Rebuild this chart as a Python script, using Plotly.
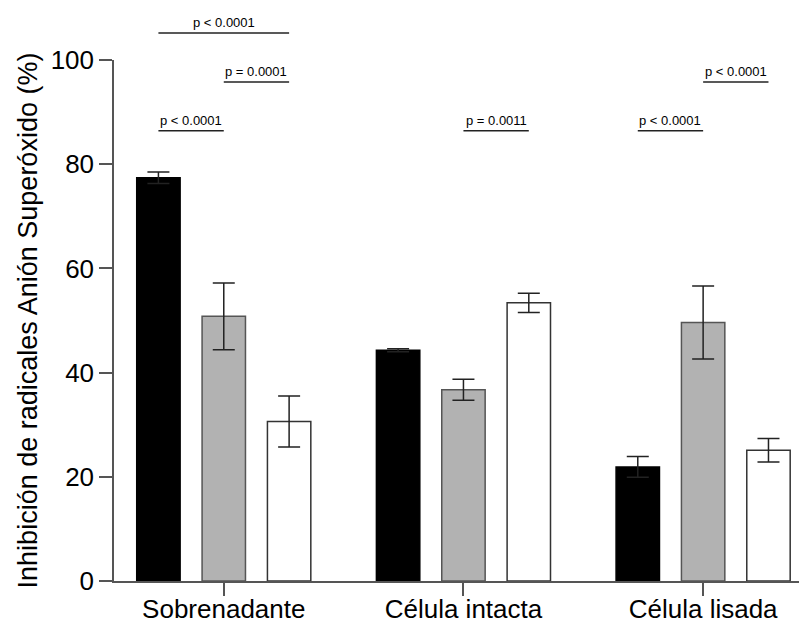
import plotly.graph_objects as go

# Groups along the x axis
categories = ["Sobrenadante", "Célula intacta", "Célula lisada"]

# Mean inhibition (%) and error for the three treatments in each group
black_vals = [77.4, 44.3, 21.9]
black_err = [1.1, 0.3, 2.0]
gray_vals = [50.8, 36.7, 49.6]
gray_err = [6.4, 2.0, 7.0]
white_vals = [30.6, 53.4, 25.1]
white_err = [4.9, 1.85, 2.25]

y_ticks = [0, 20, 40, 60, 80, 100]

# Pairwise comparisons: (group index, bar a, bar b, label, tier)
comparisons = [
    (0, 0, 2, "p < 0.0001", 3),
    (0, 1, 2, "p = 0.0001", 2),
    (0, 0, 1, "p < 0.0001", 1),
    (1, 1, 2, "p = 0.0011", 1),
    (2, 0, 1, "p < 0.0001", 1),
    (2, 1, 2, "p < 0.0001", 2),
]

x = list(range(len(categories)))
BARGAP = 0.182
BARGROUPGAP = 0.336
slot = (1 - BARGAP) / 3

series = [
    ("negro", black_vals, black_err, "#000000", "#000000"),
    ("gris", gray_vals, gray_err, "#b2b2b2", "#555555"),
    ("blanco", white_vals, white_err, "#ffffff", "#333333"),
]

fig = go.Figure()
for name, vals, err, fill, edge in series:
    fig.add_trace(go.Bar(
        x=x, y=vals, name=name,
        marker=dict(color=fill, line=dict(color=edge, width=1.5)),
        error_y=dict(type="data", array=err, visible=True,
                     color="#222222", thickness=1.5, width=11),
        showlegend=False,
    ))

# Bracket heights (in data units) for each tier above the plot
tier_y = {1: 86.4, 2: 95.8, 3: 105.2}
ymax = 100.0
for g, a, b, label, tier in comparisons:
    xa = g + (a - 1) * slot
    xb = g + (b - 1) * slot
    yp = tier_y[tier] / ymax
    fig.add_shape(type="line", xref="x", yref="paper",
                  x0=xa, x1=xb, y0=yp, y1=yp,
                  line=dict(color="#222222", width=1.5))
    fig.add_annotation(x=(xa + xb) / 2, y=yp, xref="x", yref="paper",
                       text=label, showarrow=False, yanchor="bottom",
                       yshift=1,
                       font=dict(family="Liberation Sans, Arial", size=13,
                                 color="#000000"))

fig.update_layout(
    width=799, height=625,
    margin=dict(l=114, r=0, t=60, b=44),
    paper_bgcolor="white", plot_bgcolor="white",
    barmode="group", bargap=BARGAP, bargroupgap=BARGROUPGAP,
    font=dict(family="Liberation Sans, Arial", color="#000000"),
)
fig.update_xaxes(
    range=[-0.458, 2.4], tickvals=x, ticktext=categories,
    showline=True, linecolor="#555555", linewidth=1.5,
    ticks="outside", ticklen=13, tickwidth=1.5, tickcolor="#555555",
    tickfont=dict(size=26), showgrid=False, zeroline=False,
    automargin=False, ticklabelstandoff=-9,
)
fig.update_yaxes(
    range=[0, 100], tickvals=y_ticks,
    showline=True, linecolor="#555555", linewidth=1.5,
    ticks="outside", ticklen=13, tickwidth=1.5, tickcolor="#555555",
    tickfont=dict(size=26), showgrid=False, zeroline=False,
    automargin=False,
    title=dict(text="Inhibición de radicales Anión Superóxido (%)",
               font=dict(size=27), standoff=5),
)

fig.write_html("out.html")
